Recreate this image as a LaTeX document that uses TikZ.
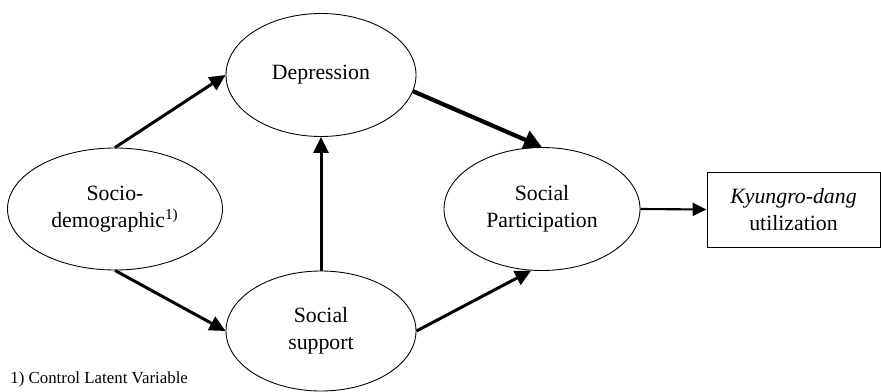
\documentclass[tikz,border=0pt]{standalone}
\usepackage{fontspec}
\setmainfont{Liberation Serif}
\usetikzlibrary{arrows.meta,shapes.geometric}

\begin{document}
\begin{tikzpicture}[
  latent/.style={draw,ellipse,line width=0.5pt,inner sep=0pt,align=center,
    font=\fontsize{12.4}{15.3}\selectfont},
  observed/.style={draw,rectangle,line width=0.5pt,inner sep=0pt,align=center,
    font=\fontsize{12.4}{15.3}\selectfont},
  path/.style={line width=1.7pt,-{Triangle[length=0.32cm,width=0.3cm]}},
  strongpath/.style={line width=2.4pt,-{Triangle[length=0.36cm,width=0.38cm]}},
  thinpath/.style={line width=1.2pt,-{Triangle[length=0.28cm,width=0.26cm]}}]
\useasboundingbox (0,0) rectangle (17.62,7.82);

% Latent variables
\node[latent,minimum width=3.8cm,minimum height=2.46cm] (dep) at (6.42,6.32) {Depression};
\node[latent,minimum width=4.3cm,minimum height=2.44cm] (socio) at (2.30,3.64) {Socio-\\demographic\textsuperscript{1)}};
\node[latent,minimum width=3.8cm,minimum height=2.4cm] (supp) at (6.42,1.2) {Social\\support};
\node[latent,minimum width=3.92cm,minimum height=2.46cm] (part) at (10.84,3.64) {Social\\Participation};

% Outcome
\node[observed,minimum width=3.46cm,minimum height=1.5cm] (kyung) at (15.87,3.63) {\textit{Kyungro-dang}\\utilization};

% Paths
\draw[path] (socio.north) -- (dep.west);
\draw[path] (socio.south) -- (supp.west);
\draw[path] (supp.north) -- (dep.south);
\draw[strongpath] (dep.-10) -- (part.north);
\draw[path] (supp.east) -- (part.-100);
\draw[thinpath] (part.east) -- (kyung.west);

% Footnote
\node[anchor=base west,inner sep=0pt,font=\fontsize{9.6}{11}\selectfont] (note) at (0.2,0.16) {1) Control Latent Variable};

\end{tikzpicture}
\end{document}
